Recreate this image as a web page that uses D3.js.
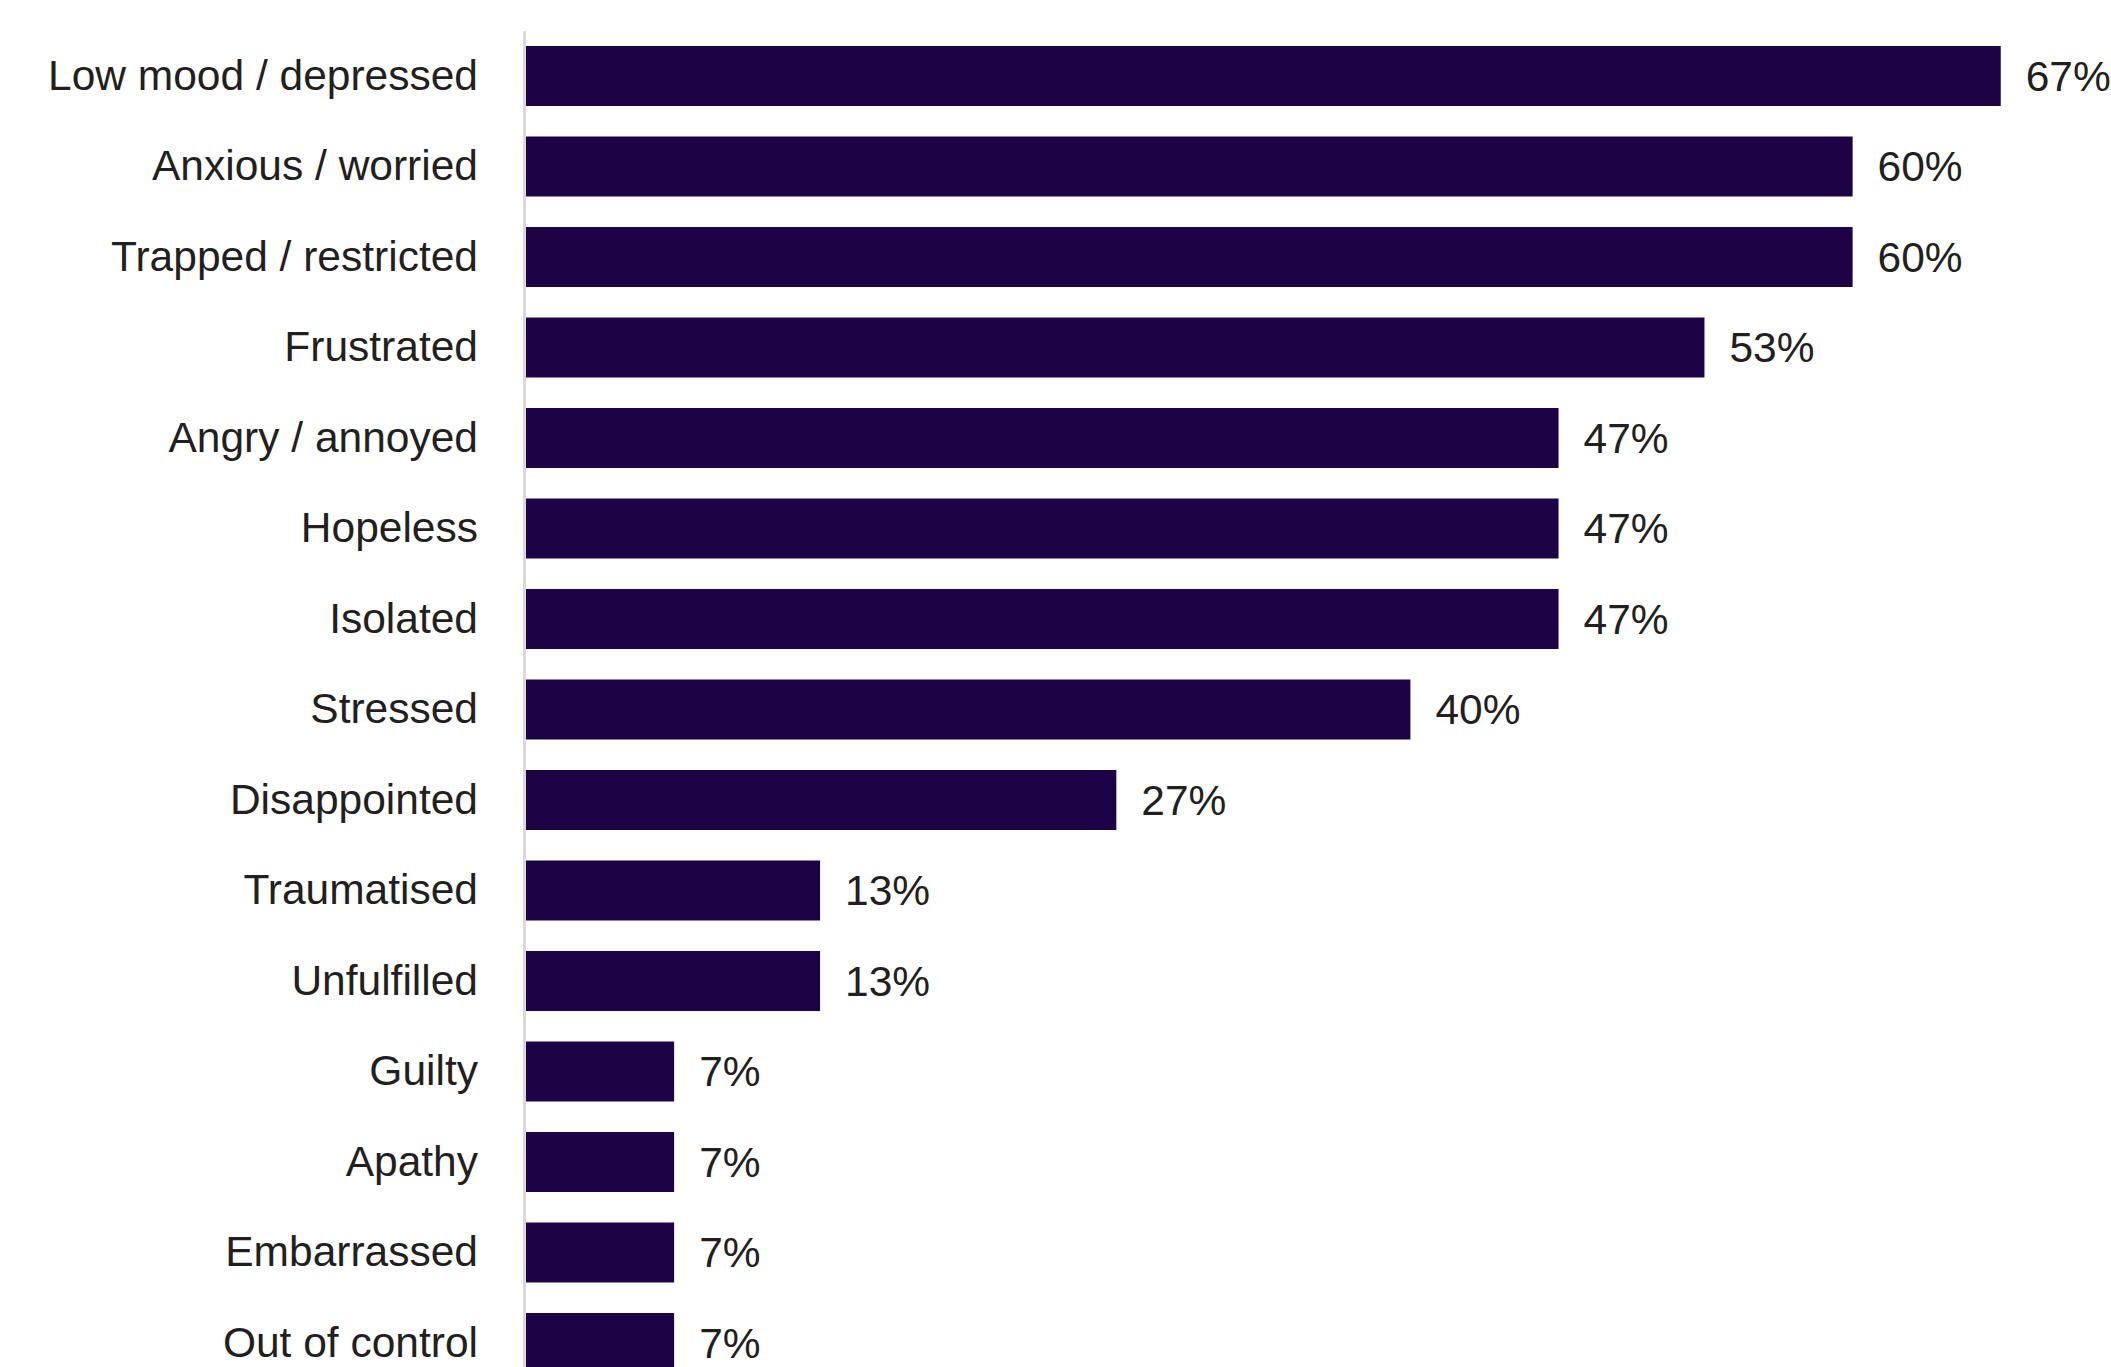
<!DOCTYPE html>
<html>
<head>
<meta charset="utf-8">
<script src="https://cdn.jsdelivr.net/npm/d3@7"></script>
<style>
  body { margin: 0; background: #fff; }
  svg text { font-family: "Liberation Sans", Arial, Helvetica, sans-serif; fill: #231f20; }
</style>
</head>
<body>
<svg id="chart"></svg>
<script>
// Categories and share of respondents (%)
var categories = ["Low mood / depressed", "Anxious / worried", "Trapped / restricted", "Frustrated",
    "Angry / annoyed", "Hopeless", "Isolated", "Stressed", "Disappointed", "Traumatised",
    "Unfulfilled", "Guilty", "Apathy", "Embarrassed", "Out of control"];
var values = [66.7, 60, 60, 53.3, 46.7, 46.7, 46.7, 40, 26.7, 13.3, 13.3, 6.7, 6.7, 6.7, 6.7];

var data = categories.map(function(c, i) { return { name: c, value: values[i] }; });

var width = 2111, height = 1367;
var axisX = 524;

var svg = d3.select("#chart")
    .attr("width", width)
    .attr("height", height);

// Set up the scales
var x = d3.scaleLinear()
    .domain([0, 100])
    .range([axisX + 2, axisX + 2 + 2211]);

var y = d3.scaleBand()
    .domain(categories)
    .range([30.75, 1388.25])
    .paddingInner(0.337)
    .paddingOuter(0.1685);

// Add the bars
svg.selectAll(".bar")
    .data(data)
    .enter()
    .append("rect")
    .attr("class", "bar")
    .attr("x", x(0))
    .attr("y", function(d) { return y(d.name); })
    .attr("width", function(d) { return x(d.value) - x(0); })
    .attr("height", y.bandwidth())
    .attr("fill", "#1d0345");

// Add the y axis line and category labels
var yAxis = svg.append("g")
    .attr("class", "y axis")
    .attr("transform", "translate(" + axisX + ",0)")
    .call(d3.axisLeft(y).tickSize(0).tickPadding(46).tickSizeOuter(0));

yAxis.select(".domain")
    .attr("stroke", "#d9d9d9")
    .attr("stroke-width", 3);

yAxis.selectAll("text")
    .style("font-size", "42.5px")
    .style("fill", "#231f20")
    .style("font-family", "'Liberation Sans', Arial, sans-serif");

// Add the value labels
svg.selectAll(".value")
    .data(data)
    .enter()
    .append("text")
    .attr("class", "value")
    .attr("x", function(d) { return x(d.value) + 25; })
    .attr("y", function(d) { return y(d.name) + y.bandwidth() / 2; })
    .attr("dy", "0.35em")
    .style("font-size", "42.5px")
    .text(function(d) { return Math.round(d.value) + "%"; });
</script>
</body>
</html>
